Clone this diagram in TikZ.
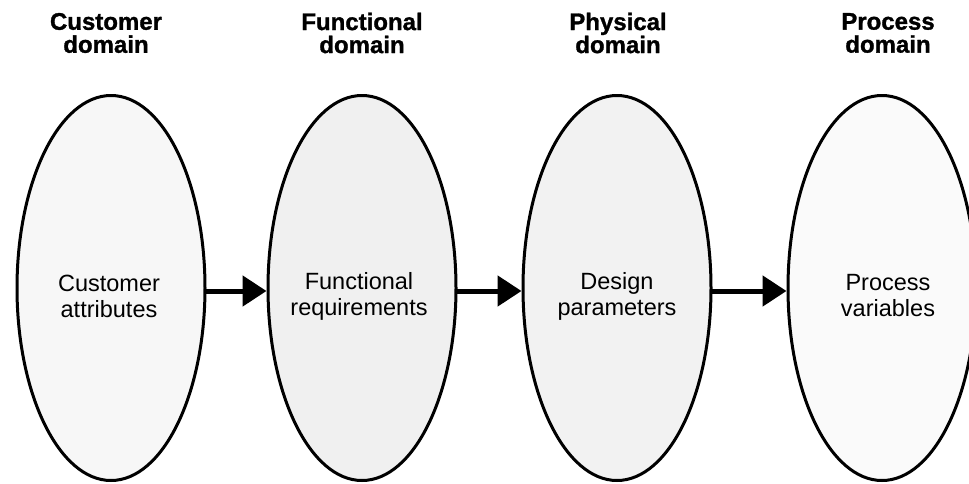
\documentclass[tikz,border=0pt]{standalone}
\usepackage{fontspec}
\setmainfont{Liberation Sans}
\newfontfamily\ttlfont[FakeBold=1.2]{Liberation Sans Bold}
\usetikzlibrary{shapes.geometric,arrows.meta}
\begin{document}
\begin{tikzpicture}[x=1pt,y=-1pt,
  dom/.style={ellipse,draw=black,line width=3pt,minimum width=188pt,minimum height=385pt,inner sep=0pt},
  ttl/.style={align=center,font=\fontsize{24}{23}\ttlfont},
  lab/.style={align=center,font=\fontsize{23.5}{26}\selectfont},
  arr/.style={line width=5pt,-{Triangle[length=24pt,width=30pt]},shorten <=-1pt}]
\useasboundingbox (0,0) rectangle (969,483);
\node[dom,fill=black!3] (e1) at (111,288) {};
\node[dom,fill=black!6] (e2) at (362,288) {};
\node[dom,fill=black!5] (e3) at (617,288) {};
\node[dom,fill=black!2] (e4) at (882,288) {};
\node[ttl] (t1) at (106,33) {Customer\\domain};
\node[ttl] (t2) at (362,33) {Functional\\domain};
\node[ttl] (t3) at (618,33) {Physical\\domain};
\node[ttl] (t4) at (888,33) {Process\\domain};
\node[lab] (l1) at (109,296) {Customer\\attributes};
\node[lab] (l2) at (359,296) {Functional\\requirements};
\node[lab] (l3) at (617,296) {Design\\parameters};
\node[lab] (l4) at (888,296) {Process\\variables};
\draw[arr] ([yshift=-3pt]e1.east) -- ([yshift=-3pt]e2.west);
\draw[arr] ([yshift=-3pt]e2.east) -- ([yshift=-3pt]e3.west);
\draw[arr] ([yshift=-3pt]e3.east) -- ([yshift=-3pt]e4.west);
\end{tikzpicture}
\end{document}
